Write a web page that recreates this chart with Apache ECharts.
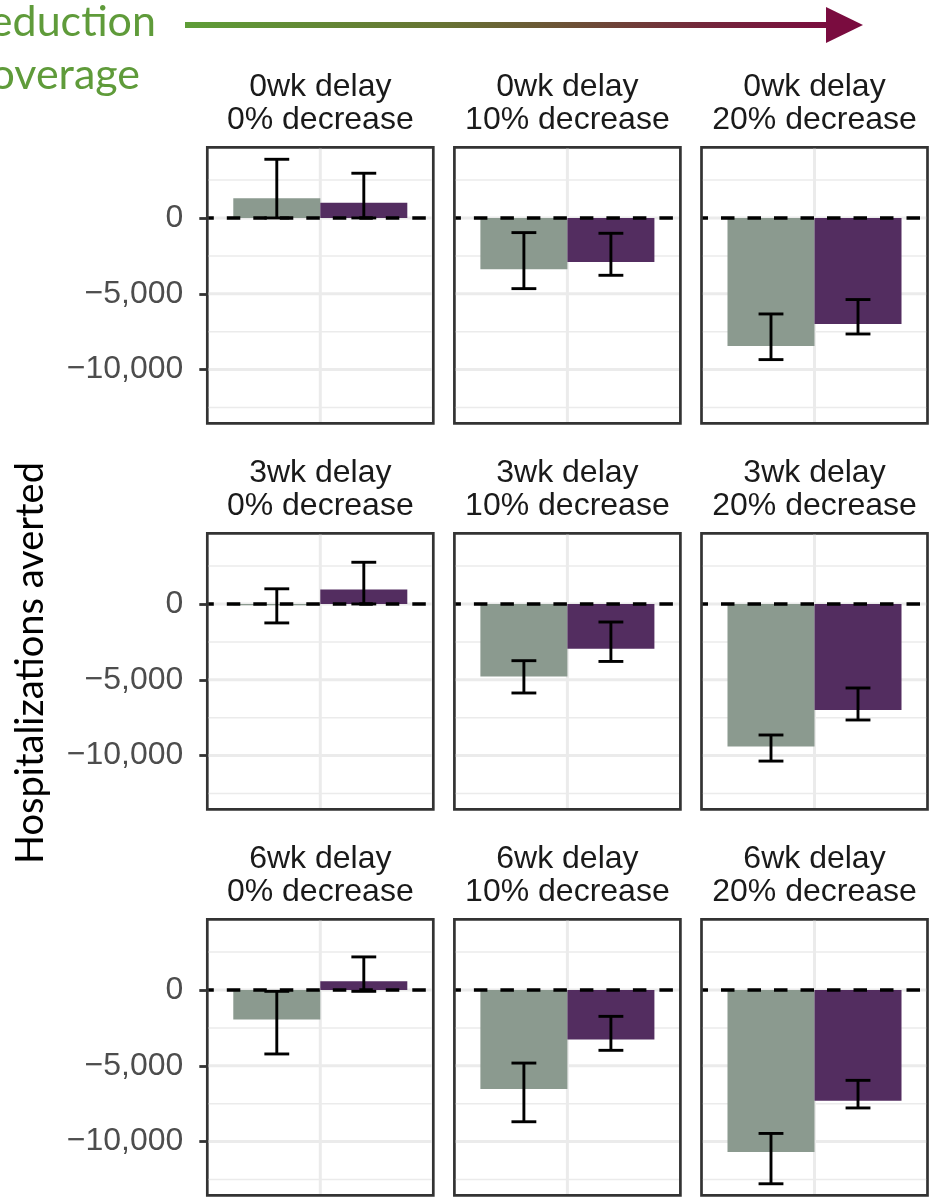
<!DOCTYPE html>
<html><head><meta charset="utf-8">
<script src="https://cdn.jsdelivr.net/npm/echarts@6/dist/echarts.min.js"></script>
<style>html,body{margin:0;padding:0;background:#fff}#c{width:935px;height:1204px}</style>
</head><body><div id="c"></div>
<script>
// ---- data ----
const delays = ['0wk delay', '3wk delay', '6wk delay'];
const decreases = ['0% decrease', '10% decrease', '20% decrease'];
// panels in row-major order (rows = delays, cols = decreases)
const greyValues   = [1300, -3380, -8450,   -90, -4780, -9400, -1950, -6530, -10690];
const greyLow      = [0,    -4660, -9340, -1250, -5870, -10360, -4220, -8690, -12780];
const greyHigh     = [3870,  -965, -6330,  1000, -3740,  -8640,   -90, -4820,  -9460];
const purpleValues = [1000, -2900, -7000,   950, -2950,  -6990,   570, -3260,  -7300];
const purpleLow    = [0,    -3780, -7650,     0, -3790,  -7650,   -90, -3980,  -7780];
const purpleHigh   = [2950, -1010, -5380,  2750, -1190,  -5540,  2180, -1740,  -5960];
const yTicks = [0, -5000, -10000];
const minorGrid = [2500, -2500, -7500, -12500];
const refLine = 0;
const yRange = [-13540, 4660];
const yTitle = 'Hospitalizations averted';
const headerWords = ['eduction', 'overage'];

// ---- layout ----
const L0 = 207.3, colStep = 247.1, T0 = 147.3, rowStep = 386, W = 226, H = 276;
const GREY = '#8b9a8f', PURPLE = '#532d60';

const fmt = v => (v < 0 ? '\u2212' : '') + Math.abs(v).toLocaleString('en-US');

const grids = [], xAxes = [], yAxes = [], series = [], graphics = [];

for (let i = 0; i < 9; i++) {
  const r = Math.floor(i / 3), c = i % 3;
  grids.push({left: L0 + c * colStep, top: T0 + r * rowStep, width: W, height: H,
    show: true, borderColor: '#333333', borderWidth: 2.7, backgroundColor: '#fff',
    outerBoundsMode: 'none', containLabel: false});
  xAxes.push({gridIndex: i, type: 'category', data: ['all'], show: false, boundaryGap: true});
  yAxes.push({gridIndex: i, type: 'value', min: yRange[0], max: yRange[1],
    splitLine: {show: false}, axisLine: {show: false},
    axisTick: {show: c === 0, customValues: yTicks, length: 8, lineStyle: {color: '#333333', width: 2.8}},
    axisLabel: {show: c === 0, customValues: yTicks, margin: 24, fontSize: 32,
      fontFamily: 'Liberation Sans', color: '#4d4d4d', formatter: fmt}});

  const base = {xAxisIndex: i, yAxisIndex: i, silent: true, animation: false};
  // major horizontal gridlines
  series.push(Object.assign({}, base, {type: 'custom', z: 1,
    data: yTicks.map(v => [0, v]),
    renderItem: (p, api) => {
      const cs = p.coordSys; const y = api.coord([0, api.value(1)])[1];
      return {type: 'line', shape: {x1: cs.x + 1.4, y1: y, x2: cs.x + cs.width - 1.4, y2: y},
        style: {stroke: '#ebebeb', lineWidth: 3}};
    }}));
  // minor horizontal gridlines
  series.push(Object.assign({}, base, {type: 'custom', z: 1,
    data: minorGrid.map(v => [0, v]),
    renderItem: (p, api) => {
      const cs = p.coordSys; const y = api.coord([0, api.value(1)])[1];
      return {type: 'line', shape: {x1: cs.x + 1.4, y1: y, x2: cs.x + cs.width - 1.4, y2: y},
        style: {stroke: '#ebebeb', lineWidth: 1.5}};
    }}));
  // vertical gridline at category centre
  series.push(Object.assign({}, base, {type: 'custom', z: 1,
    data: [[0, refLine]],
    renderItem: (p, api) => {
      const cs = p.coordSys; const x = api.coord([0, api.value(1)])[0];
      return {type: 'line', shape: {x1: x, y1: cs.y + 1.4, x2: x, y2: cs.y + cs.height - 1.4},
        style: {stroke: '#ebebeb', lineWidth: 3}};
    }}));
  // bars
  series.push(Object.assign({}, base, {type: 'bar', z: 2, data: [greyValues[i]],
    itemStyle: {color: GREY}, barGap: '0%', barCategoryGap: '23%'}));
  series.push(Object.assign({}, base, {type: 'bar', z: 2, data: [purpleValues[i]],
    itemStyle: {color: PURPLE}, barGap: '0%', barCategoryGap: '23%'}));
  // error bars
  const errSeries = (sign, lo, hi) => Object.assign({}, base, {type: 'custom', z: 3,
    data: [[0, lo, hi]],
    renderItem: (p, api) => {
      const band = api.size([1, 0])[0];
      const cx = api.coord([0, 0])[0] + sign * band * 0.77 / 4;
      const yl = api.coord([0, api.value(1)])[1], yh = api.coord([0, api.value(2)])[1];
      const hw = band * 0.055;
      const st = {stroke: '#000', lineWidth: 2.9};
      return {type: 'group', children: [
        {type: 'line', shape: {x1: cx, y1: yl, x2: cx, y2: yh}, style: st},
        {type: 'line', shape: {x1: cx - hw, y1: yl, x2: cx + hw, y2: yl}, style: st},
        {type: 'line', shape: {x1: cx - hw, y1: yh, x2: cx + hw, y2: yh}, style: st}]};
    }});
  series.push(errSeries(-1, greyLow[i], greyHigh[i]));
  series.push(errSeries(1, purpleLow[i], purpleHigh[i]));
  // dashed zero reference line
  series.push(Object.assign({}, base, {type: 'custom', z: 4,
    data: [[0, refLine]],
    renderItem: (p, api) => {
      const cs = p.coordSys; const y = api.coord([0, api.value(1)])[1];
      return {type: 'line', shape: {x1: cs.x + 1, y1: y, x2: cs.x + cs.width - 1, y2: y},
        style: {stroke: '#000', lineWidth: 3.6, lineDash: [13.5, 13], lineDashOffset: 8}};
    }}));

  // strip labels
  const cx = L0 + c * colStep + W / 2;
  const lines = [delays[r], decreases[c]];
  lines.forEach((t, k) => graphics.push({type: 'text', silent: true,
    style: {text: t, x: cx, y: 87 + k * 33 + r * rowStep, font: '32px "Liberation Sans"',
      fill: '#1a1a1a', align: 'center', verticalAlign: 'middle',
      textAlign: 'center', textVerticalAlign: 'middle'}}));
}

// y-axis title
graphics.push({type: 'text', silent: true, x: 31, y: 663, rotation: Math.PI / 2,
  style: {text: yTitle, x: 0, y: 0, font: '38px Lato', fill: '#000',
    align: 'center', verticalAlign: 'middle', textAlign: 'center', textVerticalAlign: 'middle'}});

// header fragments (green)
graphics.push({type: 'text', silent: true,
  style: {text: headerWords[0], x: 156, y: 22, font: '43px Lato', fill: '#5f9b3a',
    align: 'right', verticalAlign: 'middle', textAlign: 'right', textVerticalAlign: 'middle'}});
graphics.push({type: 'text', silent: true,
  style: {text: headerWords[1], x: 140, y: 75, font: '43px Lato', fill: '#5f9b3a',
    align: 'right', verticalAlign: 'middle', textAlign: 'right', textVerticalAlign: 'middle'}});

// gradient arrow
graphics.push({type: 'rect', silent: true, shape: {x: 185, y: 22, width: 645, height: 6},
  style: {fill: new echarts.graphic.LinearGradient(0, 0, 1, 0, [
    {offset: 0, color: '#5e9d37'}, {offset: 0.4, color: '#677333'},
    {offset: 0.6, color: '#6c5036'}, {offset: 0.8, color: '#73283b'},
    {offset: 1, color: '#7a0c3f'}])}});
graphics.push({type: 'polygon', silent: true,
  shape: {points: [[826, 7], [863, 25], [826, 43]]}, style: {fill: '#7a0c3f'}});

const chart = echarts.init(document.getElementById('c'), null, {renderer: 'canvas'});
chart.setOption({
  animation: false,
  backgroundColor: '#fff',
  grid: grids, xAxis: xAxes, yAxis: yAxes, series: series, graphic: graphics
});
</script></body></html>
